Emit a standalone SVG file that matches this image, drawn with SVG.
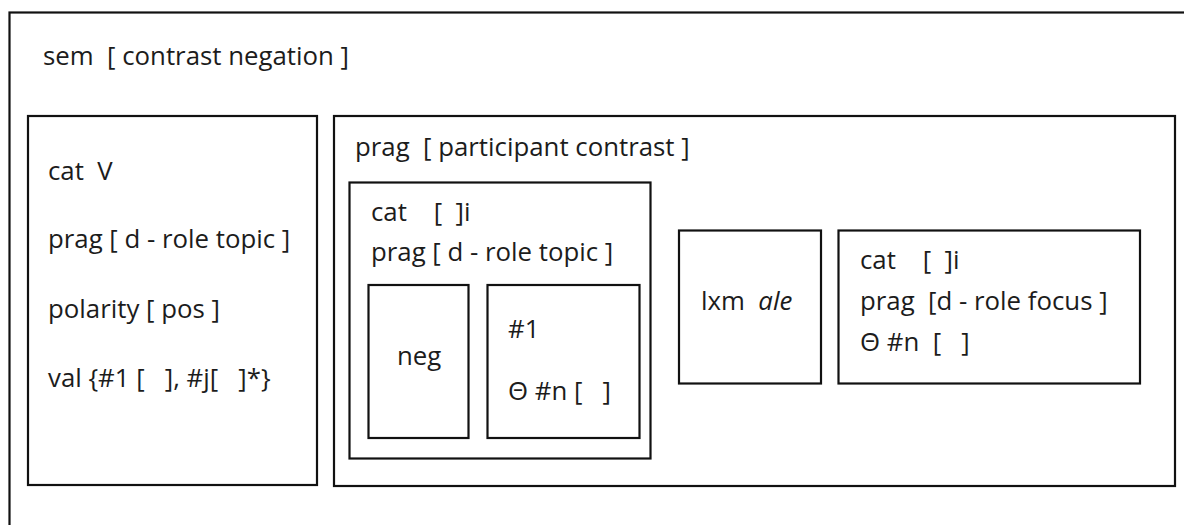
<svg xmlns="http://www.w3.org/2000/svg" width="1184" height="525" viewBox="0 0 1184 525" xml:space="preserve">
<style>
.box{fill:none;stroke:#111;stroke-width:2.2}
text{font-family:"Open Sans","Noto Sans",sans-serif;font-size:25.8px;fill:#1c1c1c;white-space:pre}
.it{font-style:italic}
</style>
<rect width="1184" height="525" fill="#fff"/>
<g id="sem">
<rect class="box" x="9.5" y="12.5" width="1200" height="600"/>
<text x="43" y="65">sem  [ contrast negation ]</text>
</g>
<g id="verb">
<rect class="box" x="28" y="116" width="289" height="369"/>
<text x="48" y="180">cat  V</text>
<text x="48" y="248">prag [ d - role topic ]</text>
<text x="48" y="318">polarity [ pos ]</text>
<text x="48" y="387">val {#1 [   ], #j[   ]*}</text>
</g>
<g id="prag">
<rect class="box" x="334" y="116" width="841" height="370"/>
<text x="355" y="156">prag  [ participant contrast ]</text>
</g>
<g id="topic">
<rect class="box" x="349.5" y="182.5" width="301" height="276"/>
<text x="371" y="221">cat    [  ]i</text>
<text x="371" y="261">prag [ d - role topic ]</text>
</g>
<g id="neg">
<rect class="box" x="368.5" y="285" width="100" height="153"/>
<text x="397" y="365">neg</text>
</g>
<g id="n1">
<rect class="box" x="487.5" y="285" width="152" height="153"/>
<text x="508" y="338">#1</text>
<text x="508" y="400">Θ #n [   ]</text>
</g>
<g id="lxm">
<rect class="box" x="679" y="230.5" width="142" height="153"/>
<text x="701" y="310">lxm  <tspan class="it">ale</tspan></text>
</g>
<g id="focus">
<rect class="box" x="838.5" y="230.5" width="301.5" height="153"/>
<text x="860" y="269">cat    [  ]i</text>
<text x="860" y="310">prag  [d - role focus ]</text>
<text x="860" y="351">Θ #n  [   ]</text>
</g>
<g id="connectors"></g>
</svg>
